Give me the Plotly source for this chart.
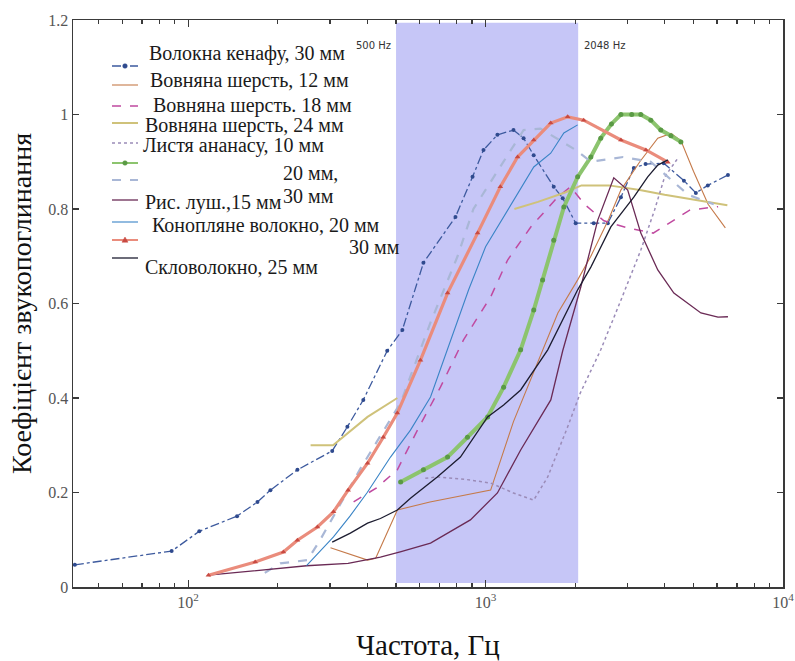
import math
import plotly.graph_objects as go

# ---------------- data (frequency in Hz, absorption coefficient) ----------------
kenaf30_f = [41.6, 88, 109, 146, 171, 189, 233, 305, 343, 388, 467, 525, 618, 792, 904, 984, 1096, 1241, 1342, 1451,
             1695, 1817, 2009, 2310, 2576, 2851, 3150, 3450, 3973, 4644, 5093, 5587, 6530]
kenaf30_a = [0.047, 0.076, 0.118, 0.15, 0.18, 0.205, 0.248, 0.288, 0.339, 0.396, 0.50, 0.544, 0.686, 0.783, 0.868, 0.925,
             0.957, 0.967, 0.95, 0.914, 0.847, 0.823, 0.77, 0.77, 0.77, 0.825, 0.887, 0.895, 0.897, 0.86, 0.834, 0.85, 0.872]

wool12_f = [301, 350, 401, 427, 505, 650, 850, 1040, 1241, 1531, 1750, 2040, 2259, 2600, 2850, 3300, 3793, 4200, 4536,
            5000, 5600, 6400]
wool12_a = [0.083, 0.07, 0.057, 0.061, 0.163, 0.18, 0.195, 0.205, 0.35, 0.49, 0.58, 0.65, 0.70, 0.78, 0.84, 0.90, 0.95,
            0.96, 0.945, 0.88, 0.81, 0.76]

wool18_f = [360, 430, 505, 590, 705, 843, 1040, 1186, 1419, 1746, 1931, 2150, 2500, 3000, 3660, 4870, 6050]
wool18_a = [0.18, 0.21, 0.248, 0.332, 0.423, 0.523, 0.614, 0.692, 0.762, 0.825, 0.847, 0.81, 0.775, 0.76, 0.749, 0.798,
            0.805]

wool24_f = [258, 307, 401, 505, None, 1250, 1500, 1850, 2100, 2600, 3300, 4000, 4700, 5500, 6500]
wool24_a = [0.30, 0.30, 0.36, 0.40, None, 0.80, 0.815, 0.835, 0.85, 0.85, 0.84, 0.83, 0.823, 0.815, 0.808]

pine10_f = [627, 688, 850, 1040, 1241, 1452, 1618, 1888, 2080, 2439, 2851, 3326, 3700, 4000, 4460]
pine10_a = [0.23, 0.233, 0.228, 0.22, 0.199, 0.184, 0.233, 0.339, 0.41, 0.502, 0.607, 0.713, 0.798, 0.868, 0.91]

pine20_f = [518, 618, 745, 869, 1016, 1150, 1312, 1452, 1555, 1695, 1833, 2040, 2259, 2439, 2650, 2851, 3100, 3326,
            3593, 3883, 4200, 4536]
pine20_a = [0.222, 0.248, 0.275, 0.317, 0.36, 0.423, 0.502, 0.586, 0.65, 0.734, 0.804, 0.868, 0.91, 0.95, 0.98, 1.0,
            1.0, 1.0, 0.988, 0.967, 0.955, 0.942]

pine30_f = [181, 204, 252, 278, 379, 518, 653, 805, 910, 1121, 1342, 1531, 2009, 2259, 2900, 3590, 4800, 5850]
pine30_a = [0.03, 0.05, 0.057, 0.10, 0.25, 0.39, 0.56, 0.70, 0.80, 0.89, 0.967, 0.97, 0.925, 0.90, 0.91, 0.90, 0.83,
            0.81]

rice15_f = [117, 170, 250, 345, 443, 520, 653, 889, 1096, 1312, 1657, 1817, 2090, 2385, 2698, 3005, 3326, 3793, 4296,
            5296, 6046, 6530]
rice15_a = [0.025, 0.035, 0.045, 0.05, 0.063, 0.075, 0.093, 0.142, 0.199, 0.29, 0.396, 0.50, 0.635, 0.777, 0.866, 0.84,
            0.749, 0.671, 0.622, 0.58, 0.571, 0.572]

hemp20_f = [250, 308, 350, 400, 479, 559, 653, 745, 805, 877, 1000, 1242, 1452, 1656, 1833, 2040]
hemp20_a = [0.045, 0.106, 0.15, 0.20, 0.275, 0.332, 0.402, 0.502, 0.565, 0.629, 0.72, 0.819, 0.889, 0.918, 0.961, 0.978]

hemp30_f = [117, 168, 209, 233, 272, 308, 345, 401, 453, 505, 604, 745, 940, 1121, 1281, 1452, 1656, 1888, 2137, 2851,
            3459, 4100]
hemp30_a = [0.025, 0.053, 0.074, 0.099, 0.127, 0.159, 0.205, 0.262, 0.317, 0.368, 0.48, 0.622, 0.749, 0.847, 0.91,
            0.946, 0.982, 0.995, 0.988, 0.946, 0.925, 0.899]

glass25_f = [305, 351, 401, 443, 505, 559, 688, 823, 1016, 1150, 1312, 1618, 2040, 2259, 2637, 3150, 3509, 3793, 4100]
glass25_a = [0.095, 0.114, 0.135, 0.145, 0.163, 0.188, 0.233, 0.275, 0.36, 0.385, 0.417, 0.502, 0.629, 0.677, 0.762,
             0.825, 0.868, 0.893, 0.904]

band_lo, band_hi = 500, 2048
band_labels = ["500 Hz", "2048 Hz"]

x_tick_vals = [100, 1000, 10000]
x_tick_text = ["10<sup>2</sup>", "10<sup>3</sup>", "10<sup>4</sup>"]
x_minor_vals = [m * 10 ** e for e in (1, 2, 3) for m in range(2, 10) if m * 10 ** e > 41]
y_tick_vals = [0, 0.2, 0.4, 0.6, 0.8, 1.0, 1.2]
y_tick_text = ["0", "0.2", "0.4", "0.6", "0.8", "1", "1.2"]

legend_labels = [
    "Волокна кенафу, 30 мм",
    "Вовняна шерсть, 12 мм",
    "Вовняна шерсть. 18 мм",
    "Вовняна шерсть, 24 мм",
    "Листя ананасу, 10 мм",
    "20 мм,",
    "30 мм",
    "Рис. луш.,15 мм",
    "Конопляне волокно, 20 мм",
    "30 мм",
    "Скловолокно, 25 мм",
]

SERIF = "Liberation Serif"

# ---------------- figure geometry (pixels) ----------------
W, H = 795, 661
ML, MR, MT, MB = 73, 12, 20, 74
PW, PH = W - ML - MR, H - MT - MB


def px(x):
    return (x - ML) / PW


def py(y):
    return (H - MB - y) / PH


# style per series: (color, width, dash, marker, marker size, marker colour)
styles = [
    ("#3d5a9e", 1.3, "dashdot", "circle", 4, "#2f4a8e"),
    ("#c57a4a", 1.1, "solid", None, 0, None),
    ("#c04aa0", 1.5, "dash", None, 0, None),
    ("#cfc27a", 2.0, "solid", None, 0, None),
    ("#9b8cb8", 1.5, "dot", None, 0, None),
    ("#8cc46e", 4.0, "solid", "circle", 5, "#5a9a45"),
    ("#a9b7d6", 2.2, "dash", None, 0, None),
    ("#6a2a55", 1.3, "solid", None, 0, None),
    ("#3a84c6", 1.1, "solid", None, 0, None),
    ("#ea8c7c", 3.2, "solid", "triangle-up", 5, "#c84a42"),
    ("#1c1c30", 1.3, "solid", None, 0, None),
]
series = [
    (kenaf30_f, kenaf30_a), (wool12_f, wool12_a), (wool18_f, wool18_a), (wool24_f, wool24_a),
    (pine10_f, pine10_a), (pine20_f, pine20_a), (pine30_f, pine30_a), (rice15_f, rice15_a),
    (hemp20_f, hemp20_a), (hemp30_f, hemp30_a), (glass25_f, glass25_a),
]

fig = go.Figure()
fig.add_vrect(x0=band_lo, x1=band_hi, y0=0.007, y1=0.995, fillcolor="#c6c6f7", line_width=0, layer="below")

for (f, a), (col, w, dash, mk, ms, mc), name in zip(series, styles, legend_labels):
    kw = {}
    if mk:
        kw["marker"] = dict(symbol=mk, size=ms, color=mc)
    fig.add_trace(go.Scatter(x=f, y=a, mode="lines+markers" if mk else "lines", name=name,
                             line=dict(color=col, width=w, dash=dash), connectgaps=False,
                             showlegend=False, hoverinfo="skip", **kw))

# ---------------- hand-placed legend (as in the original figure) ----------------
# text rows: (label index, left x px, centre y px)
text_rows = [(0, 147, 53), (1, 148, 80), (2, 151, 105), (3, 143, 125), (4, 141, 145), (5, 281, 173),
             (6, 281, 196), (7, 143, 202), (8, 150, 225), (9, 347, 247), (10, 143, 267)]
# symbol rows: (style index, centre y px)
sym_rows = [(0, 66), (1, 85), (2, 106), (3, 123), (4, 143), (5, 163), (6, 180), (7, 200), (8, 222), (9, 240),
            (10, 258)]

for idx, x0, yc in text_rows:
    fig.add_annotation(x=px(x0), y=py(yc), xref="paper", yref="paper", text=legend_labels[idx],
                       showarrow=False, xanchor="left", yanchor="middle",
                       font=dict(family=SERIF, size=20, color="#1a1a1a"))

for idx, yc in sym_rows:
    col, w, dash, mk, ms, mc = styles[idx]
    lw = min(w, 2.0)
    fig.add_shape(type="line", xref="paper", yref="paper", x0=px(112), x1=px(138), y0=py(yc), y1=py(yc),
                  line=dict(color=col, width=lw, dash=dash))
    if mk == "circle":
        r = 2.3
        fig.add_shape(type="circle", xref="paper", yref="paper", x0=px(125 - r), x1=px(125 + r),
                      y0=py(yc + r), y1=py(yc - r), fillcolor=mc, line=dict(color=mc, width=0.5))
    elif mk == "triangle-up":
        path = "M {:.5f},{:.5f} L {:.5f},{:.5f} L {:.5f},{:.5f} Z".format(
            px(125), py(yc - 3), px(122), py(yc + 2.2), px(128), py(yc + 2.2))
        fig.add_shape(type="path", xref="paper", yref="paper", path=path, fillcolor=mc,
                      line=dict(color=mc, width=0.5))

fig.add_annotation(x=math.log10(band_lo), y=1.147, xref="x", yref="y", text=band_labels[0], showarrow=False,
                   xanchor="right", yanchor="middle", xshift=-3,
                   font=dict(family="DejaVu Sans", size=10, color="#333"))
fig.add_annotation(x=math.log10(band_hi), y=1.147, xref="x", yref="y", text=band_labels[1], showarrow=False,
                   xanchor="left", yanchor="middle", xshift=4,
                   font=dict(family="DejaVu Sans", size=10, color="#333"))

axis_common = dict(showgrid=False, zeroline=False, showline=True, linecolor="#3a3a3a", linewidth=1.5,
                   mirror="ticks", ticks="inside", tickcolor="#3a3a3a", tickwidth=1.2,
                   tickfont=dict(family=SERIF, size=16, color="#555"))

fig.update_xaxes(type="log", range=[math.log10(41), 4.0], tickmode="array", tickvals=x_tick_vals,
                 ticktext=x_tick_text, ticklen=7,
                 minor=dict(tickmode="array", tickvals=x_minor_vals, ticks="inside", ticklen=4,
                            tickcolor="#3a3a3a", tickwidth=1.2),
                 title=dict(text="Частота, Гц", font=dict(family=SERIF, size=29, color="#111"), standoff=27),
                 **axis_common)
fig.update_yaxes(range=[0, 1.2], tickmode="array", tickvals=y_tick_vals, ticktext=y_tick_text, ticklen=6,
                 title=dict(text="Коефіцієнт звукопоглинання", font=dict(family=SERIF, size=28, color="#111"),
                            standoff=8),
                 **axis_common)

fig.update_layout(
    width=W, height=H,
    margin=dict(l=ML, r=MR, t=MT, b=MB, autoexpand=False),
    paper_bgcolor="white", plot_bgcolor="white",
    showlegend=False,
    hovermode=False,
    font=dict(family=SERIF),
)

fig.write_html("out.html", config={"displayModeBar": False, "staticPlot": True},
               post_script="document.body.style.margin='0px';document.body.style.overflow='hidden';")
